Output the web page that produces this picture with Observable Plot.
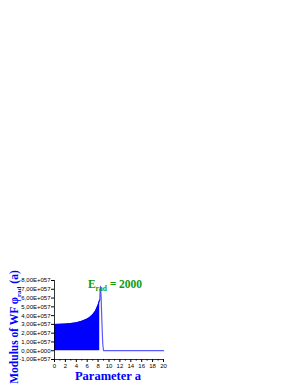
<!DOCTYPE html>
<html><head><meta charset="utf-8">
<script src="https://cdn.jsdelivr.net/npm/d3@7"></script>
<script src="https://cdn.jsdelivr.net/npm/@observablehq/plot@0.6"></script>
<style>body{margin:0;background:#fff;} svg{display:block;}</style>
</head><body><div id="chart"></div>
<script>
// values in units of 1E+57
const envX = [0, 1, 2, 3, 4, 5, 6, 6.5, 7, 7.5, 8, 8.2, 8.3];
const envY = [3.0, 3.02, 3.05, 3.1, 3.18, 3.35, 3.6, 3.8, 4.1, 4.5, 5.2, 5.6, 5.8];
const peakX = [8.2, 8.3, 8.38, 8.45, 8.55, 8.7, 8.85, 9.0, 20];
const peakY = [5.6, 5.8, 7.0, 7.33, 6.2, 3.2, 0.8, 0.0, 0.0];
const yTicks = [-1, 0, 1, 2, 3, 4, 5, 6, 7, 8];
const xTicks = [0, 2, 4, 6, 8, 10, 12, 14, 16, 18, 20];
const xMinor = [1, 3, 5, 7, 9, 11, 13, 15, 17, 19];

const env = envX.map((x, i) => ({x, y: envY[i]}));
const peak = peakX.map((x, i) => ({x, y: peakY[i]}));
const fmt = v => v === 0 ? "0,00E+000" : (v < 0 ? "-" : "") + Math.abs(v).toFixed(2).replace(".", ",") + "E+057";

const plot = Plot.plot({
  width: 300, height: 388,
  marginLeft: 54, marginRight: 137, marginTop: 280, marginBottom: 29,
  x: {type: "linear", domain: [0, 20]},
  y: {type: "linear", domain: [-1, 8]},
  style: {fontFamily: "Liberation Sans, Arial, sans-serif", fontSize: "6px", color: "#000"},
  marks: [
    Plot.areaY(env, {x: "x", y1: 0, y2: "y", fill: "#0000ff"}),
    Plot.line(peak, {x: "x", y: "y", stroke: "#5a5aff", strokeWidth: 1.2}),
    Plot.line(env, {x: "x", y: "y", stroke: "#0000ff", strokeWidth: 0.8}),
    Plot.axisY({ticks: yTicks, tickFormat: fmt, tickSize: 3, tickPadding: 1, label: null, fontSize: 6}),
    Plot.axisX({ticks: xTicks, tickSize: 3, tickPadding: 1, label: null, fontSize: 6}),
    Plot.axisX({ticks: xMinor, tickSize: 1.5, text: null, label: null}),
    Plot.ruleX([0], {y1: -1, y2: 8, stroke: "#000", strokeWidth: 0.8}),
    Plot.ruleY([-1], {x1: 0, x2: 20, stroke: "#000", strokeWidth: 0.8})
  ]
});
document.getElementById("chart").appendChild(plot);

const svg = d3.select(plot);
const serif = "Liberation Serif, Times New Roman, serif";
// x label
svg.append("text")
  .attr("x", 108).attr("y", 380)
  .attr("text-anchor", "middle")
  .attr("fill", "#0000ff")
  .attr("font-family", serif)
  .attr("font-weight", "bold")
  .attr("font-size", 12.5)
  .text("Parameter a");
// y label with subscript
const yl = svg.append("text")
  .attr("transform", "translate(18,327) rotate(-90)")
  .attr("text-anchor", "middle")
  .attr("fill", "#0000ff")
  .attr("font-family", serif)
  .attr("font-weight", "bold")
  .attr("font-size", 11.5);
yl.append("tspan").text("Modulus of WF φ");
yl.append("tspan").attr("font-size", 7).attr("dy", 2.5).text("rad");
yl.append("tspan").attr("dy", -2.5).text(" (a)");

// annotation E_rad = 2000
const ann = svg.append("text")
  .attr("x", 115).attr("y", 288)
  .attr("fill", "#119911")
  .attr("font-family", serif)
  .attr("font-weight", "bold")
  .attr("font-size", 11.5);
ann.append("tspan").text("E");
ann.append("tspan").attr("font-size", 7.5).attr("dy", 3).text("rad");
ann.append("tspan").attr("dy", -3).text(" = 2000");
</script>
</body></html>
